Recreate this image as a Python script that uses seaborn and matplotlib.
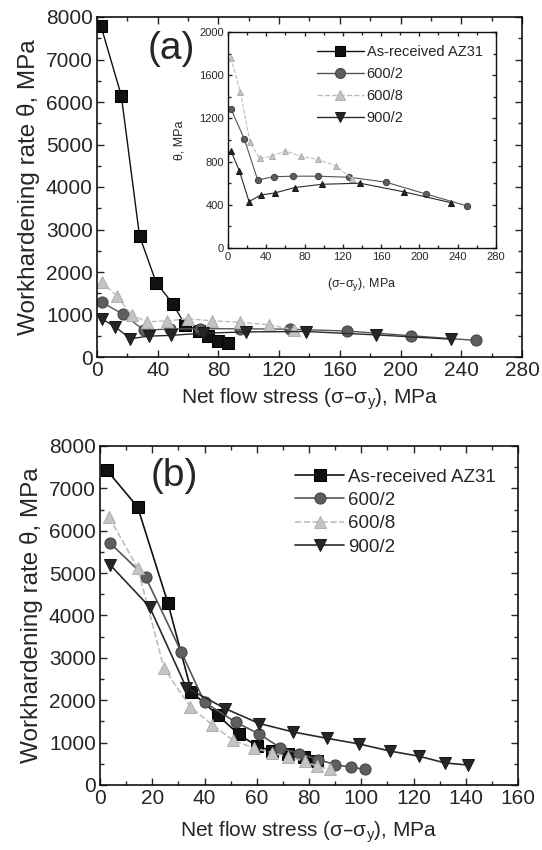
import numpy as np
import matplotlib
matplotlib.use('Agg')
import matplotlib.pyplot as plt
from matplotlib.ticker import MultipleLocator
import seaborn as sns

# (a) workhardening rate vs net flow stress, large strain range
a_asrec_x = [2.5, 16, 28, 39, 50, 58, 67, 73, 80, 86]
a_asrec_y = [7800, 6150, 2850, 1750, 1250, 760, 620, 500, 380, 320]
a_6002_x = [3, 17, 31, 48, 68, 94, 127, 165, 207, 250]
a_6002_y = [1290, 1010, 630, 660, 665, 665, 655, 610, 500, 390]
a_6008_x = [3, 13, 23, 33, 46, 60, 76, 94, 113, 130]
a_6008_y = [1760, 1440, 980, 830, 850, 900, 850, 820, 760, 640]
a_9002_x = [3, 12, 22, 34, 49, 70, 98, 138, 184, 233]
a_9002_y = [900, 710, 430, 490, 510, 560, 590, 600, 520, 420]

# (b)
b_asrec_x = [2.6, 14.4, 26, 35, 45, 53, 60, 66, 72, 78, 83]
b_asrec_y = [7430, 6560, 4290, 2200, 1650, 1200, 920, 800, 720, 650, 560]
b_6002_x = [4, 17.5, 31, 40, 52, 61, 69, 76, 83.5, 90, 96, 101.5]
b_6002_y = [5700, 4900, 3150, 1950, 1480, 1200, 880, 740, 600, 480, 420, 370]
b_6008_x = [3.5, 14.4, 24.5, 34.5, 43, 51, 59, 66, 72, 78.5, 83, 88]
b_6008_y = [6320, 5120, 2750, 1850, 1420, 1050, 870, 760, 660, 560, 440, 370]
b_9002_x = [3.8, 19, 33, 48, 61, 74, 87, 99, 111, 122, 132, 141]
b_9002_y = [5200, 4200, 2300, 1800, 1450, 1250, 1100, 970, 800, 680, 520, 470]

labels = ['As-received AZ31', '600/2', '600/8', '900/2']

sns.set_style('ticks')
plt.rcParams['font.family'] = ['Liberation Sans', 'DejaVu Sans']
plt.rcParams['xtick.direction'] = 'in'
plt.rcParams['ytick.direction'] = 'in'

fig = plt.figure(figsize=(5.42, 8.5), dpi=100)
ax_a = fig.add_axes([0.179, 0.580, 0.784, 0.400])
ax_b = fig.add_axes([0.1845, 0.0765, 0.7715, 0.3988])
ax_in = fig.add_axes([0.4207, 0.7082, 0.494, 0.2542])

styles = [
    dict(marker='s', color='#111111', mfc='#111111', mec='#000000', ls='-'),
    dict(marker='o', color='#555555', mfc='#5e5e5e', mec='#444444', ls='-'),
    dict(marker='^', color='#bdbdbd', mfc='#c4c4c4', mec='#b0b0b0', ls='--'),
    dict(marker='v', color='#2a2a2a', mfc='#262626', mec='#1a1a1a', ls='-'),
]

def draw(ax, data, ms, lw):
    for (x, y), lab, st in zip(data, labels, styles):
        sns.lineplot(x=x, y=y, ax=ax, label=lab, marker=st['marker'], color=st['color'],
                     markerfacecolor=st['mfc'], markeredgecolor=st['mec'],
                     linestyle=st['ls'], markersize=ms, linewidth=lw, sort=False)

def style_axes(ax, xmaj, ymaj, fs):
    ax.xaxis.set_major_locator(MultipleLocator(xmaj))
    ax.xaxis.set_minor_locator(MultipleLocator(xmaj / 2))
    ax.yaxis.set_major_locator(MultipleLocator(ymaj))
    ax.yaxis.set_minor_locator(MultipleLocator(ymaj / 2))
    ax.tick_params(which='both', top=True, right=True, labelsize=fs, width=1, pad=3)
    ax.tick_params(which='major', length=5)
    ax.tick_params(which='minor', length=3)
    for s in ax.spines.values():
        s.set_linewidth(1.2)
        s.set_color('#111111')

xlab = 'Net flow stress (σ–σ$_\\mathregular{y}$), MPa'
ylab = 'Workhardening rate θ, MPa'

# panel (a)
draw(ax_a, [(a_asrec_x, a_asrec_y), (a_6002_x, a_6002_y), (a_6008_x, a_6008_y),
            (a_9002_x, a_9002_y)], 8, 1.0)
handles, _ = ax_a.get_legend_handles_labels()
ax_a.get_legend().remove()
ax_a.set_xlim(0, 280)
ax_a.set_ylim(0, 8000)
style_axes(ax_a, 40, 1000, 15)
ax_a.set_xlabel(xlab, fontsize=15, labelpad=4)
ax_a.set_ylabel(ylab, fontsize=17.5, labelpad=4)
ax_a.text(0.12, 0.96, '(a)', transform=ax_a.transAxes, fontsize=28, va='top')

# inset
in_data = [(a_6002_x, a_6002_y), (a_6008_x, a_6008_y), (a_9002_x, a_9002_y)]
for (x, y), st in zip(in_data, styles[1:]):
    mk = '^' if st['marker'] == 'v' else st['marker']
    sns.lineplot(x=x, y=y, ax=ax_in, marker=mk, color=st['color'],
                 markerfacecolor=st['mfc'], markeredgecolor=st['mec'],
                 linestyle=st['ls'], markersize=4.5, linewidth=0.8, sort=False)
ax_in.set_xlim(0, 280)
ax_in.set_ylim(0, 2000)
style_axes(ax_in, 40, 400, 8)
ax_in.tick_params(which='major', length=3)
ax_in.tick_params(which='minor', length=2)
for s in ax_in.spines.values():
    s.set_linewidth(1.0)
ax_in.set_xlabel('(σ–σ$_\\mathregular{y}$), MPa', fontsize=9, labelpad=10)
ax_in.set_ylabel('θ, MPa', fontsize=9, labelpad=10)
ax_in.legend(handles=handles, labels=labels, loc='upper right', frameon=False,
             fontsize=10.5, handlelength=3.2, labelspacing=0.55, handletextpad=0.2,
             borderaxespad=0.5, markerscale=0.9)

# panel (b)
draw(ax_b, [(b_asrec_x, b_asrec_y), (b_6002_x, b_6002_y), (b_6008_x, b_6008_y),
            (b_9002_x, b_9002_y)], 8, 1.2)
ax_b.set_xlim(0, 160)
ax_b.set_ylim(0, 8000)
style_axes(ax_b, 20, 1000, 15)
ax_b.set_xlabel(xlab, fontsize=15, labelpad=8)
ax_b.set_ylabel(ylab, fontsize=17.5, labelpad=4)
ax_b.text(0.12, 0.965, '(b)', transform=ax_b.transAxes, fontsize=28, va='top')
ax_b.legend(loc='upper right', frameon=False, fontsize=13.5, handlelength=2.6,
            labelspacing=0.33, handletextpad=0.2, borderaxespad=0.8)

fig.savefig('out.png', dpi=100)
